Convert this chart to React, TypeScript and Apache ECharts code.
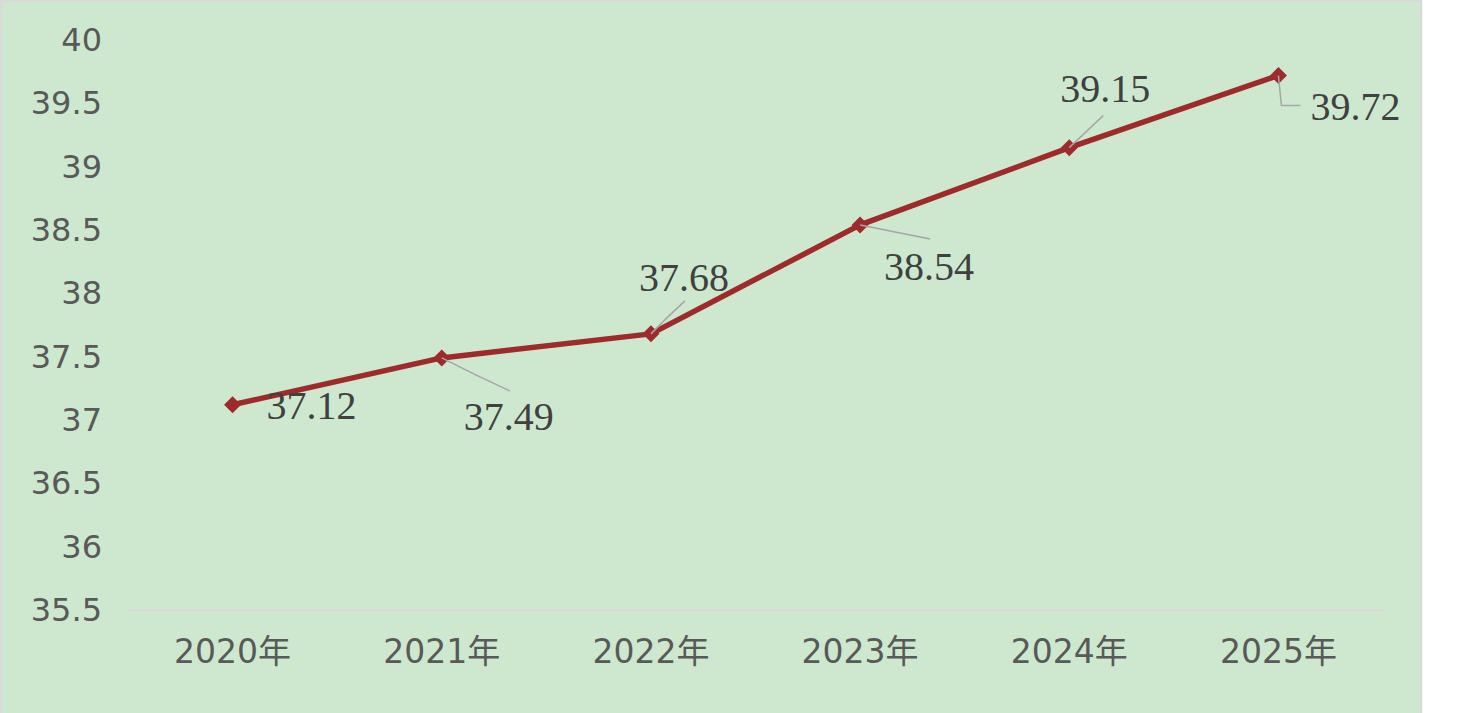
import React, { useEffect, useRef } from "react";
import * as echarts from "echarts";

const categories = ["2020年", "2021年", "2022年", "2023年", "2024年", "2025年"];
const values = [37.12, 37.49, 37.68, 38.54, 39.15, 39.72];
const yMin = 35.5;
const yMax = 40;
const yStep = 0.5;

// label displacement (px) relative to each point
const labelOffsets: [number, number][] = [
  [79, 1],
  [67, 59],
  [33, -56],
  [69, 42],
  [36, -59],
  [77, 31],
];
// leader line (elbow, end) in px relative to each point; null = no leader line
const leaderPoints: ([number, number][] | null)[] = [
  null,
  [[34, 17], [68, 33]],
  [[17, -17], [34, -33]],
  [[35, 7], [70, 14]],
  [[17, -16], [34, -32]],
  [[3, 30], [22, 30]],
];

export default function App() {
  const ref = useRef<HTMLDivElement>(null);
  useEffect(() => {
    if (!ref.current) return;
    const chart = echarts.init(ref.current, null, { renderer: "svg" });
    chart.setOption({
      animation: false,
      backgroundColor: "#ffffff",
      graphic: [
        {
          type: "rect",
          z: -10,
          silent: true,
          shape: { x: 1, y: 1, width: 1420, height: 720 },
          style: { fill: "#CDE8CF", stroke: "#D9D9D9", lineWidth: 2.5 },
        },
      ],
      grid: { left: 128, right: 75, top: 40, bottom: 103 },
      xAxis: {
        type: "category",
        data: categories,
        boundaryGap: true,
        axisLine: { show: true, lineStyle: { color: "#D9D9D9", width: 2 } },
        axisTick: { show: false },
        axisLabel: {
          color: "#595959",
          fontSize: 33,
          fontFamily: "DejaVu Sans, Noto Sans CJK SC",
          margin: 25,
        },
        splitLine: { show: false },
      },
      yAxis: {
        type: "value",
        min: yMin,
        max: yMax,
        interval: yStep,
        axisLine: { show: false },
        axisTick: { show: false },
        splitLine: { show: false },
        axisLabel: {
          color: "#595959",
          fontSize: 32,
          fontFamily: "DejaVu Sans",
          margin: 26,
        },
      },
      series: [
        {
          type: "custom",
          data: values.map((v, i) => [i, v]),
          z: 3,
          silent: true,
          renderItem: (params: any, api: any) => {
            const lp = leaderPoints[params.dataIndex];
            if (!lp) return null;
            const p = api.coord([api.value(0), api.value(1)]);
            return {
              type: "polyline",
              shape: {
                points: [
                  [p[0], p[1]],
                  [p[0] + lp[0][0], p[1] + lp[0][1]],
                  [p[0] + lp[1][0], p[1] + lp[1][1]],
                ],
              },
              style: { stroke: "#A6A6A6", lineWidth: 1.5, fill: "none" },
            };
          },
        },
        {
          type: "line",
          data: values,
          z: 2,
          symbol: "diamond",
          symbolSize: 17,
          lineStyle: { color: "#9E2A2B", width: 5.5 },
          itemStyle: { color: "#9E2A2B" },
          label: {
            show: true,
            position: "inside",
            color: "#404040",
            fontSize: 40,
            fontFamily: "Liberation Serif, serif",
          },
          labelLine: { show: false },
          labelLayout: (params: any) => {
            const o = labelOffsets[params.dataIndex] || [0, 0];
            return { dx: o[0], dy: o[1] };
          },
        },
      ],
    });
    return () => chart.dispose();
  }, []);
  return (
    <div
      ref={ref}
      style={{ position: "absolute", left: 0, top: 0, width: 1458, height: 713 }}
    />
  );
}
